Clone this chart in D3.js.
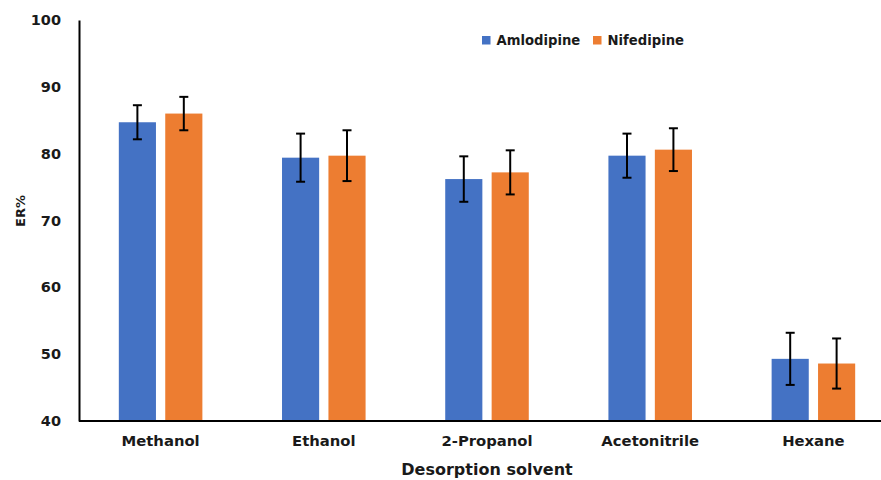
<!DOCTYPE html>
<html>
<head>
<meta charset="utf-8">
<script src="https://cdn.jsdelivr.net/npm/d3@7"></script>
<style>
  html, body { margin: 0; padding: 0; background: #fff; }
  svg { display: block; }
  text { font-family: "DejaVu Sans", Verdana, sans-serif; font-weight: bold; fill: #1a1a1a; }
</style>
</head>
<body>
<svg id="chart" width="881" height="480"></svg>
<script>
// Extraction recovery (ER%) by desorption solvent
const solvents = ["Methanol", "Ethanol", "2-Propanol", "Acetonitrile", "Hexane"];
const seriesNames = ["Amlodipine", "Nifedipine"];
const amlodipine = [84.7, 79.4, 76.2, 79.7, 49.3];
const amlodipineErr = [2.55, 3.6, 3.4, 3.3, 3.9];
const nifedipine = [86.0, 79.7, 77.2, 80.6, 48.6];
const nifedipineErr = [2.5, 3.8, 3.3, 3.2, 3.75];
const yTicks = [40, 50, 60, 70, 80, 90, 100];
const colors = ["#4472C4", "#ED7D31"];

const svg = d3.select("#chart");
const margin = { left: 79, top: 20, bottom: 59 };
const plotRight = 895;
const H = 480;

const x = d3.scaleBand()
  .domain(solvents)
  .range([margin.left, plotRight])
  .paddingInner(0.488)
  .paddingOuter(0.244);

const x1 = d3.scaleBand()
  .domain(seriesNames)
  .range([0, x.bandwidth()])
  .paddingInner(0.2);

const y = d3.scaleLinear().domain([40, 100]).range([H - margin.bottom, margin.top]);

const values = [amlodipine, nifedipine];
const errs = [amlodipineErr, nifedipineErr];

// Bars
seriesNames.forEach((name, si) => {
  const g = svg.append("g");
  g.selectAll("rect")
    .data(solvents.map((s, i) => ({ s, v: values[si][i], e: errs[si][i] })))
    .join("rect")
    .attr("x", d => x(d.s) + x1(name))
    .attr("y", d => y(d.v))
    .attr("width", x1.bandwidth())
    .attr("height", d => y(40) - y(d.v))
    .attr("fill", colors[si]);
});

// Error bars
seriesNames.forEach((name, si) => {
  const g = svg.append("g").attr("stroke", "#000").attr("stroke-width", 2);
  const data = solvents.map((s, i) => ({ s, v: values[si][i], e: errs[si][i] }));
  const cx = d => x(d.s) + x1(name) + x1.bandwidth() / 2;
  g.selectAll("line.v").data(data).join("line")
    .attr("x1", cx).attr("x2", cx)
    .attr("y1", d => y(d.v + d.e)).attr("y2", d => y(d.v - d.e));
  g.selectAll("line.t").data(data).join("line")
    .attr("x1", d => cx(d) - 4.5).attr("x2", d => cx(d) + 4.5)
    .attr("y1", d => y(d.v + d.e)).attr("y2", d => y(d.v + d.e));
  g.selectAll("line.b").data(data).join("line")
    .attr("x1", d => cx(d) - 4.5).attr("x2", d => cx(d) + 4.5)
    .attr("y1", d => y(d.v - d.e)).attr("y2", d => y(d.v - d.e));
});

// Y axis
const yAxis = svg.append("g")
  .attr("transform", `translate(${margin.left},0)`)
  .call(d3.axisLeft(y).tickValues(yTicks).tickSize(0).tickPadding(18));
yAxis.select(".domain").attr("stroke", "#000").attr("stroke-width", 2);
yAxis.selectAll("text").style("font-size", "14.5px").attr("fill", "#1a1a1a");

// X axis
const xAxis = svg.append("g")
  .attr("transform", `translate(0,${y(40)})`)
  .call(d3.axisBottom(x).tickSize(0).tickPadding(14));
xAxis.select(".domain").attr("d", `M${margin.left},0H881`).attr("stroke", "#000").attr("stroke-width", 2);
xAxis.selectAll("text").style("font-size", "14.8px").attr("fill", "#1a1a1a");

// Axis titles
svg.append("text")
  .attr("x", (margin.left + plotRight) / 2)
  .attr("y", 475)
  .attr("text-anchor", "middle")
  .style("font-size", "16px")
  .text("Desorption solvent");

svg.append("text")
  .attr("transform", `translate(25,211) rotate(-90)`)
  .attr("text-anchor", "middle")
  .style("font-size", "13px")
  .text("ER%");

// Legend
const legendItems = [{ name: "Amlodipine", x: 482 }, { name: "Nifedipine", x: 593 }];
const legend = svg.append("g");
legendItems.forEach((d, i) => {
  legend.append("rect")
    .attr("x", d.x).attr("y", 36).attr("width", 8.5).attr("height", 8.5)
    .attr("fill", colors[i]);
  legend.append("text")
    .attr("x", d.x + 14.5).attr("y", 45)
    .style("font-size", "13.2px")
    .text(d.name);
});
</script>
</body>
</html>
